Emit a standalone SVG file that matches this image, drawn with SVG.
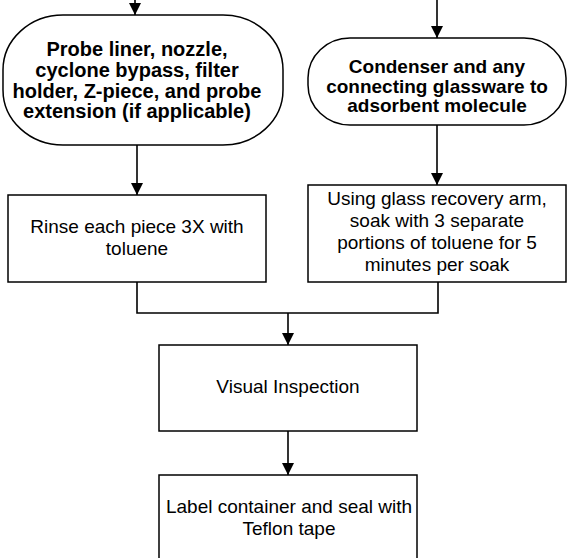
<svg xmlns="http://www.w3.org/2000/svg" width="568" height="558" viewBox="0 0 568 558">
  <style>
    .box { fill: #ffffff; stroke: #000000; stroke-width: 1.5; }
    .wire { fill: none; stroke: #000000; stroke-width: 1.6; }
    .bold { font-family: "Liberation Sans", Arial, sans-serif; font-weight: bold; fill: #000000; text-anchor: middle; }
    .reg { font-family: "Liberation Sans", Arial, sans-serif; font-size: 19px; fill: #000000; text-anchor: middle; }
  </style>
  <defs>
    <marker id="arrow" viewBox="0 0 12 12" refX="12" refY="6" markerWidth="12" markerHeight="12" markerUnits="userSpaceOnUse" orient="auto">
      <path d="M0,0 L12,6 L0,12 z" fill="#000000"/>
    </marker>
  </defs>
  <rect width="568" height="558" fill="#ffffff"/>

  <!-- connectors -->
  <g id="connectors">
    <line class="wire" x1="135" y1="0" x2="135" y2="15" marker-end="url(#arrow)"/>
    <line class="wire" x1="437" y1="0" x2="437" y2="38" marker-end="url(#arrow)"/>
    <line class="wire" x1="137" y1="145" x2="137" y2="195" marker-end="url(#arrow)"/>
    <line class="wire" x1="437" y1="125" x2="437" y2="185" marker-end="url(#arrow)"/>
    <polyline class="wire" points="137,282 137,313 438,313 438,282"/>
    <line class="wire" x1="288" y1="313" x2="288" y2="345" marker-end="url(#arrow)"/>
    <line class="wire" x1="288" y1="431" x2="288" y2="475" marker-end="url(#arrow)"/>
  </g>

  <!-- probe components terminator -->
  <g id="probe-parts">
    <rect class="box" x="3" y="15" width="280" height="130" rx="60" ry="55"/>
    <text class="bold" font-size="20" x="137" y="56">Probe liner, nozzle,</text>
    <text class="bold" font-size="20" x="137" y="77">cyclone bypass, filter</text>
    <text class="bold" font-size="20" x="137" y="98">holder, Z-piece, and probe</text>
    <text class="bold" font-size="20" x="137" y="118">extension (if applicable)</text>
  </g>

  <!-- condenser terminator -->
  <g id="condenser">
    <rect class="box" x="308" y="38" width="258" height="87" rx="42" ry="40"/>
    <text class="bold" font-size="19" x="437" y="73">Condenser and any</text>
    <text class="bold" font-size="19" x="437" y="93">connecting glassware to</text>
    <text class="bold" font-size="19" x="437" y="112">adsorbent molecule</text>
  </g>

  <!-- rinse step -->
  <g id="rinse">
    <rect class="box" x="8" y="195" width="258" height="87"/>
    <text class="reg" x="137" y="233">Rinse each piece 3X with</text>
    <text class="reg" x="137" y="255">toluene</text>
  </g>

  <!-- soak step -->
  <g id="soak">
    <rect class="box" x="308" y="185" width="258" height="97"/>
    <text class="reg" x="437" y="205">Using glass recovery arm,</text>
    <text class="reg" x="437" y="227">soak with 3 separate</text>
    <text class="reg" x="437" y="249">portions of toluene for 5</text>
    <text class="reg" x="437" y="271">minutes per soak</text>
  </g>

  <!-- inspection step -->
  <g id="inspection">
    <rect class="box" x="159" y="345" width="258" height="86"/>
    <text class="reg" x="288" y="393">Visual Inspection</text>
  </g>

  <!-- labelling step -->
  <g id="label-seal">
    <rect class="box" x="159" y="475" width="258" height="90"/>
    <text class="reg" x="289" y="513">Label container and seal with</text>
    <text class="reg" x="289" y="535">Teflon tape</text>
  </g>
</svg>
